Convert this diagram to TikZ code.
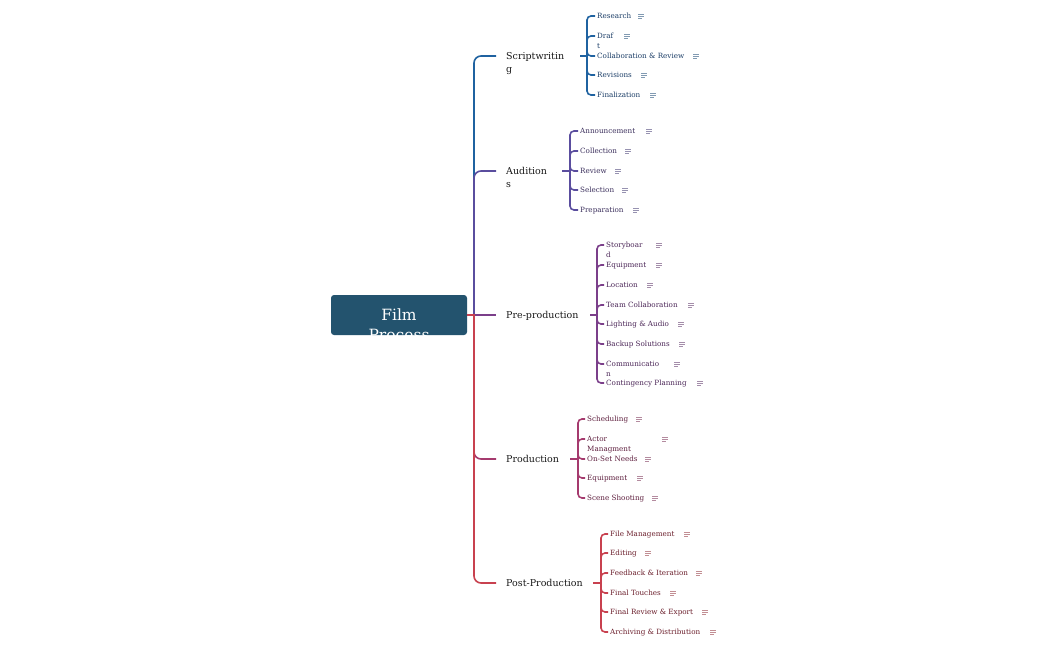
\documentclass[tikz,border=0pt]{standalone}
\usepackage{fontspec}
\setmainfont{DejaVu Serif}
\definecolor{rootc}{HTML}{23536E}
\definecolor{swc}{HTML}{1F62A0}
\definecolor{swt}{HTML}{1B3D66}
\definecolor{auc}{HTML}{5A4D9E}
\definecolor{aut}{HTML}{3B2F5C}
\definecolor{ppc}{HTML}{7B3F8A}
\definecolor{ppt}{HTML}{4B2657}
\definecolor{prc}{HTML}{A53A6E}
\definecolor{prt}{HTML}{5E1F3E}
\definecolor{poc}{HTML}{C8414F}
\definecolor{pot}{HTML}{6B1F2C}
\newcommand\noteicon[3]{\draw[#3!55!gray!70!white, line width=0.7pt] (#1-2,#2-2) -- ++(6,0) (#1-2,#2) -- ++(6,0) (#1-2,#2+2) -- ++(4,0);}
\tikzset{
  trunk/.style={line width=1.6pt, rounded corners=7pt},
  stub/.style={line width=1.6pt},
  conn/.style={line width=1.6pt, rounded corners=4pt},
  leaf/.style={inner sep=0pt, align=left, font=\fontsize{7.2}{9.5}\selectfont},
  branch/.style={inner sep=0pt, align=left, text=black!90, font=\fontsize{9.5}{13}\selectfont},
  rootbox/.style={fill=rootc, rounded corners=3pt, minimum width=136pt, minimum height=40pt, inner sep=0pt}
}
\begin{document}
\begin{tikzpicture}[x=1pt, y=-1pt]
\useasboundingbox (0,0) rectangle (1050,650);
% root
\node[rootbox, path picture={\node[anchor=north, inner sep=0pt, align=center, text=white, font=\fontsize{15.5}{20}\selectfont] at ([yshift=-9.5pt]path picture bounding box.north) {Film\\Process};}] (root) at (399,315) {};
% branch label nodes
\node[branch, anchor=north west] (sw) at (506,52.2) {Scriptwritin\\g};
\node[branch, anchor=north west] (au) at (506,167.2) {Audition\\s};
\node[branch, anchor=base west] (pp) at (506,318.4) {Pre-production};
\node[branch, anchor=base west] (pr) at (506,462.4) {Production};
\node[branch, anchor=base west] (po) at (506,586.4) {Post-Production};
\coordinate (hub) at (474,315);
\coordinate (sw-in) at (496,56);
\coordinate (au-in) at (496,171);
\coordinate (pp-in) at (496,315);
\coordinate (pr-in) at (496,459);
\coordinate (po-in) at (496,583);
% trunk connectors
\draw[trunk, swc] (hub) -- (474,56) -- (sw-in);
\draw[trunk, auc] (hub) -- (474,171) -- (au-in);
\draw[trunk, prc] (hub) -- (474,459) -- (pr-in);
\draw[trunk, poc] (hub) -- (474,583) -- (po-in);
\draw[stub, poc] (root.east) -- ([xshift=0.8pt]hub);
\draw[stub, ppc] ([xshift=0.8pt]hub) -- (pp-in);
% out points and bracket hubs
\coordinate (sw-out) at (580,56);  \coordinate (sw-hub) at (587,56);
\coordinate (au-out) at (562,171); \coordinate (au-hub) at (570,171);
\coordinate (pp-out) at (590,315); \coordinate (pp-hub) at (597,315);
\coordinate (pr-out) at (570,459); \coordinate (pr-hub) at (578,459);
\coordinate (po-out) at (593,583); \coordinate (po-hub) at (601,583);
% Scriptwriting leaves
\foreach \yy/\tt/\ix [count=\i] in {16/Research/640, 36/{Draf\\t}/626, 56/{Collaboration \& Review}/695, 75/Revisions/643, 95/Finalization/652}{
  \node[leaf, text=swt, anchor=north west] (sw-\i) at (597,\yy-2.9) {\tt};
  \coordinate (sw-\i-in) at (595,\yy);
  \draw[conn, swc] (sw-hub) |- (sw-\i-in);
  \noteicon{\ix}{\yy}{swc}
}
\draw[stub, swc] (sw-out) -- (sw-hub);
% Auditions leaves
\foreach \yy/\tt/\ix [count=\i] in {131/Announcement/648, 151/Collection/627, 171/Review/617, 190/Selection/624, 210/Preparation/635}{
  \node[leaf, text=aut, anchor=north west] (au-\i) at (580,\yy-2.9) {\tt};
  \coordinate (au-\i-in) at (578,\yy);
  \draw[conn, auc] (au-hub) |- (au-\i-in);
  \noteicon{\ix}{\yy}{auc}
}
\draw[stub, auc] (au-out) -- (au-hub);
% Pre-production leaves
\foreach \yy/\tt/\ix [count=\i] in {245/{Storyboar\\d}/658, 265/Equipment/658, 285/Location/649, 305/Team Collaboration/690, 324/{Lighting \& Audio}/680, 344/Backup Solutions/681, 364/{Communicatio\\n}/676, 383/Contingency Planning/699}{
  \node[leaf, text=ppt, anchor=north west] (pp-\i) at (606,\yy-2.9) {\tt};
  \coordinate (pp-\i-in) at (604,\yy);
  \draw[conn, ppc] (pp-hub) |- (pp-\i-in);
  \noteicon{\ix}{\yy}{ppc}
}
\draw[stub, ppc] (pp-out) -- (pp-hub);
% Production leaves
\foreach \yy/\tt/\ix [count=\i] in {419/Scheduling/638, 439/{Actor\\Managment}/664, 459/On-Set Needs/647, 478/Equipment/639, 498/Scene Shooting/654}{
  \node[leaf, text=prt, anchor=north west] (pr-\i) at (587,\yy-2.9) {\tt};
  \coordinate (pr-\i-in) at (585,\yy);
  \draw[conn, prc] (pr-hub) |- (pr-\i-in);
  \noteicon{\ix}{\yy}{prc}
}
\draw[stub, prc] (pr-out) -- (pr-hub);
% Post-Production leaves
\foreach \yy/\tt/\ix [count=\i] in {534/File Management/686, 553/Editing/647, 573/{Feedback \& Iteration}/698, 593/Final Touches/672, 612/{Final Review \& Export}/704, 632/{Archiving \& Distribution}/712}{
  \node[leaf, text=pot, anchor=north west] (po-\i) at (610,\yy-2.9) {\tt};
  \coordinate (po-\i-in) at (608,\yy);
  \draw[conn, poc] (po-hub) |- (po-\i-in);
  \noteicon{\ix}{\yy}{poc}
}
\draw[stub, poc] (po-out) -- (po-hub);
\end{tikzpicture}
\end{document}
